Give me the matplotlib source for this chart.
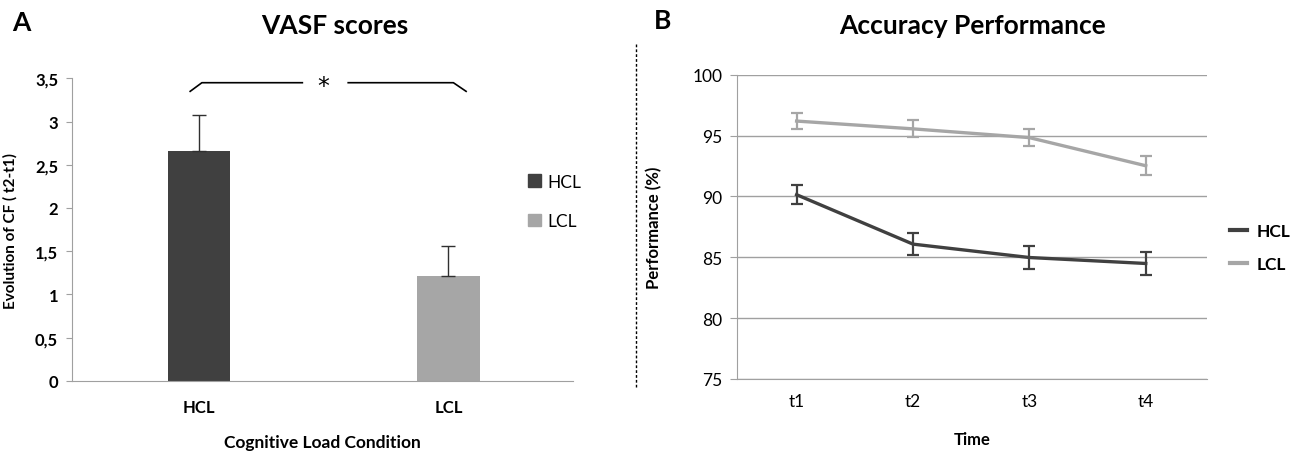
import matplotlib
matplotlib.use("Agg")
import matplotlib.pyplot as plt
import numpy as np
from matplotlib.lines import Line2D
from matplotlib.patches import Patch

plt.rcParams['font.family'] = ['Lato', 'DejaVu Sans']

# panel A data
conditions = ["HCL", "LCL"]
vasf_means = [2.655, 1.21]
vasf_err = [0.42, 0.345]
bar_colors = ["#404040", "#a6a6a6"]
a_yticks = [0, 0.5, 1, 1.5, 2, 2.5, 3, 3.5]
a_ylabels = ["0", "0,5", "1", "1,5", "2", "2,5", "3", "3,5"]

# panel B data
times = ["t1", "t2", "t3", "t4"]
hcl_perf = [90.14, 86.08, 84.98, 84.49]
hcl_err = [0.80, 0.90, 0.98, 0.98]
lcl_perf = [96.19, 95.55, 94.83, 92.52]
lcl_err = [0.65, 0.70, 0.70, 0.80]
b_yticks = [75, 80, 85, 90, 95, 100]

dark = "#404040"
light = "#a6a6a6"
axis_gray = "#a0a0a0"

fig = plt.figure(figsize=(13, 4.56), dpi=100)

# ---- panel A
ax1 = fig.add_axes([0.0554, 0.1629, 0.3854, 0.663])
x = np.arange(len(conditions))
ax1.bar(x, vasf_means, width=0.25, color=bar_colors, zorder=2)
ax1.errorbar(x, vasf_means, yerr=[[0, 0], vasf_err], fmt="none",
             ecolor="#303030", elinewidth=1, capsize=5, capthick=1, zorder=3)
ax1.set_xlim(-0.51, 1.5)
ax1.set_ylim(0, 3.5)
ax1.set_yticks(a_yticks)
ax1.set_yticklabels(a_ylabels, fontsize=12, fontweight="bold")
ax1.set_xticks(x)
ax1.set_xticklabels(conditions, fontsize=12, fontweight="bold")
ax1.tick_params(axis="x", length=0, pad=13)
ax1.tick_params(axis="y", length=4, color=axis_gray, pad=6)
for s in ["top", "right"]:
    ax1.spines[s].set_visible(False)
for s in ["left", "bottom"]:
    ax1.spines[s].set_color(axis_gray)
ax1.set_ylabel("Evolution of CF ( t2-t1)", fontsize=11, fontweight="bold")
ax1.yaxis.set_label_coords(-0.108, 0.5)
ax1.set_xlabel("Cognitive Load Condition", fontsize=12.5, fontweight="bold")
ax1.xaxis.set_label_coords(0.5, -0.176)

# significance bracket
ax1.plot([-0.036, 0.011, 0.414], [3.35, 3.45, 3.45], color="black", lw=1.2, clip_on=False)
ax1.plot([0.598, 1.02, 1.071], [3.45, 3.45, 3.35], color="black", lw=1.2, clip_on=False)
ax1.text(0.498, 3.41, "*", ha="center", va="center", fontsize=17, family="DejaVu Sans")

leg1 = fig.legend(handles=[Patch(color=c, label=l) for c, l in zip(bar_colors, conditions)],
                  loc="upper left", bbox_to_anchor=(0.406, 0.617), frameon=False,
                  fontsize=12.5, handlelength=0.75, handleheight=0.75, handletextpad=0.35,
                  labelspacing=1.35, borderpad=0, borderaxespad=0)

# ---- panel B
ax2 = fig.add_axes([0.5673, 0.1667, 0.3615, 0.6673])
xt = np.arange(len(times))
ax2.errorbar(xt, lcl_perf, yerr=lcl_err, color=light, lw=2.4, elinewidth=1.6,
             capsize=4, capthick=1.6, zorder=3, label="LCL")
ax2.errorbar(xt, hcl_perf, yerr=hcl_err, color=dark, lw=2.4, elinewidth=1.6,
             capsize=4, capthick=1.6, zorder=3, label="HCL")
ax2.set_xlim(-0.508, 3.53)
ax2.set_ylim(75, 100)
ax2.set_yticks(b_yticks)
ax2.set_yticklabels([str(v) for v in b_yticks], fontsize=12.5)
ax2.set_xticks(xt)
ax2.set_xticklabels(times, fontsize=12.5)
ax2.tick_params(axis="x", length=0, pad=10)
ax2.tick_params(axis="y", length=5, color=axis_gray, pad=6)
ax2.grid(axis="y", color=axis_gray, lw=1, zorder=0)
for s in ["top", "right"]:
    ax2.spines[s].set_visible(False)
for s in ["left", "bottom"]:
    ax2.spines[s].set_color(axis_gray)
ax2.set_ylabel("Performance (%)", fontsize=12, fontweight="bold")
ax2.yaxis.set_label_coords(-0.16, 0.5)
ax2.set_xlabel("Time", fontsize=12, fontweight="bold")
ax2.xaxis.set_label_coords(0.5, -0.17)

leg2 = fig.legend(handles=[Line2D([], [], color=dark, lw=3, label="HCL"),
                           Line2D([], [], color=light, lw=3, label="LCL")],
                  loc="upper left", bbox_to_anchor=(0.946, 0.508), frameon=False,
                  handlelength=1.0, handletextpad=0.55,
                  labelspacing=0.95, borderpad=0, borderaxespad=0,
                  prop={"weight": "bold", "size": 12.5})

# panel titles and letters
fig.text(0.009, 0.95, "A", fontsize=19, fontweight="bold", va="center")
fig.text(0.2577, 0.944, "VASF scores", fontsize=19, fontweight="bold", ha="center", va="center")
fig.text(0.503, 0.955, "B", fontsize=19, fontweight="bold", va="center")
fig.text(0.748, 0.944, "Accuracy Performance", fontsize=19, fontweight="bold",
         ha="center", va="center")

# divider
fig.add_artist(Line2D([0.489, 0.489], [1 - 45 / 456, 1 - 388 / 456],
                      transform=fig.transFigure, color="black", lw=1, ls=(0, (2, 1.5))))

fig.savefig("out.png", dpi=100, facecolor="white")
